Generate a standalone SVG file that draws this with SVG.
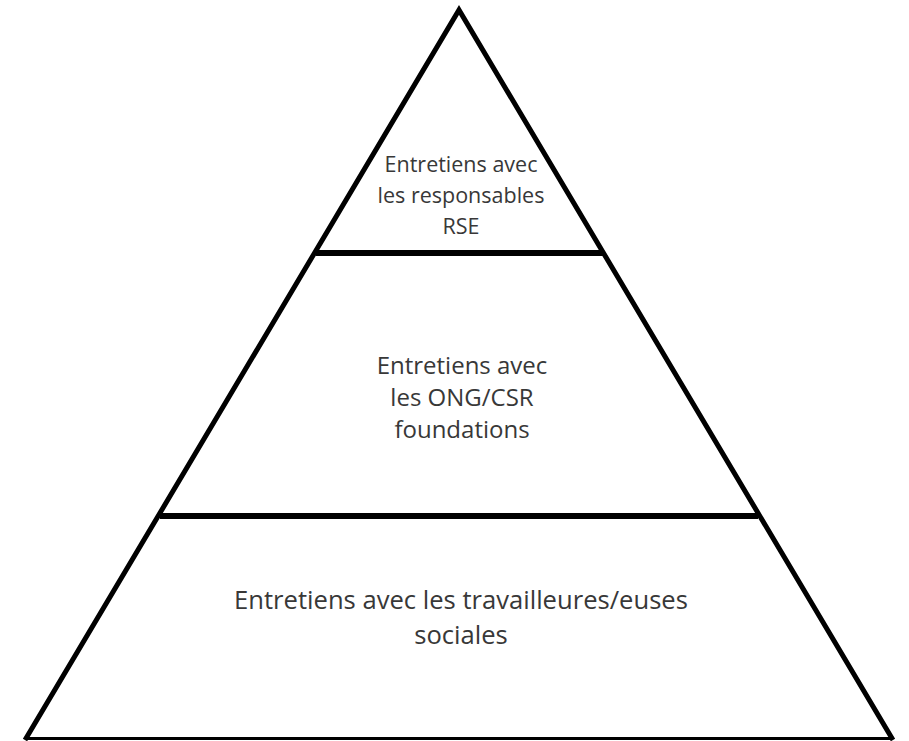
<svg xmlns="http://www.w3.org/2000/svg" width="909" height="741" viewBox="0 0 909 741">
<style>
.side{stroke:#000;stroke-width:5;fill:none;stroke-linejoin:miter}
.base{stroke:#000;stroke-width:3;fill:none}
.div{stroke:#000;stroke-width:6;fill:none}
.t{font-family:"Open Sans","Noto Sans",sans-serif;font-size:24px;fill:#383838;text-anchor:middle}
.s{font-size:21.5px}
.l{font-size:25.6px}
</style>
<rect width="909" height="741" fill="#fff"/>
<g id="pyramid">
<polyline class="side" points="25,740 459,10 893,740"/>
<line class="base" x1="25" y1="738.5" x2="893" y2="738.5"/>
</g>
<g id="connectors">
<line class="div" x1="316" y1="253" x2="603" y2="253"/>
<line class="div" x1="160" y1="516" x2="758" y2="516"/>
</g>
<g id="level-top">
<text class="t s" x="461" y="172">Entretiens avec</text>
<text class="t s" x="461" y="203">les responsables</text>
<text class="t s" x="461" y="234">RSE</text>
</g>
<g id="level-middle">
<text class="t" x="462" y="374">Entretiens avec</text>
<text class="t" x="462" y="406">les ONG/CSR</text>
<text class="t" x="462" y="438">foundations</text>
</g>
<g id="level-bottom">
<text class="t l" x="461" y="609">Entretiens avec les travailleures/euses</text>
<text class="t l" x="461" y="644">sociales</text>
</g>
</svg>
